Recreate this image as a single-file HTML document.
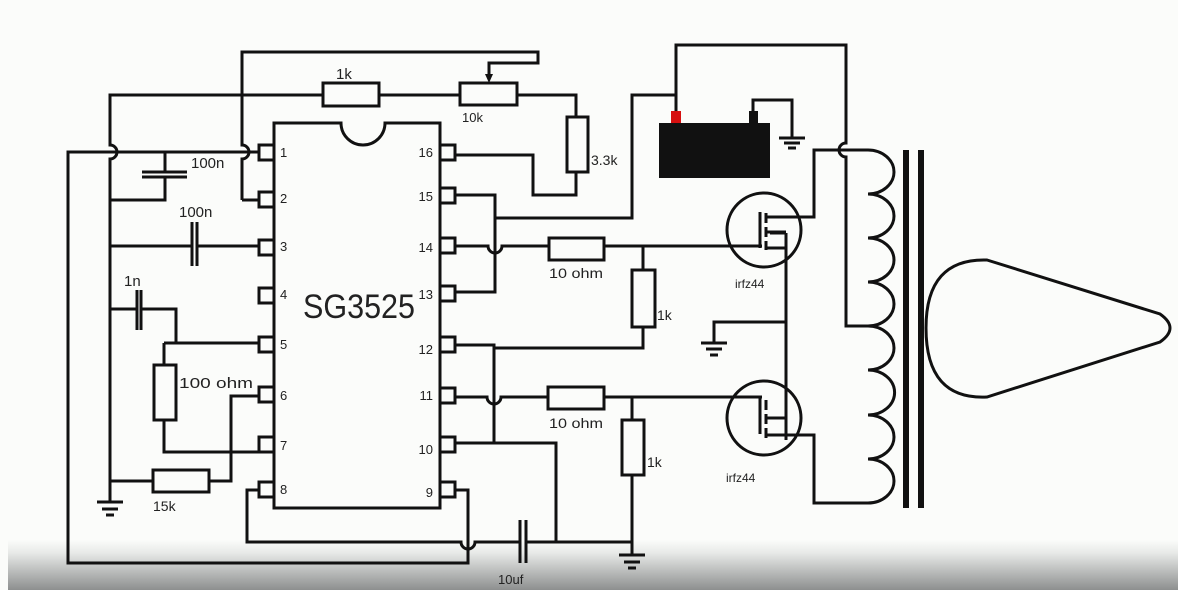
<!DOCTYPE html>
<html><head><meta charset="utf-8"><style>
html,body{margin:0;padding:0;background:#fbfcfa;}
svg{display:block}
text{font-family:"Liberation Sans",sans-serif;fill:#222}
</style></head><body>
<svg width="1178" height="590" viewBox="0 0 1178 590" xmlns="http://www.w3.org/2000/svg">
<defs>
<linearGradient id="g" x1="0" y1="0" x2="0" y2="1">
<stop offset="0" stop-color="#fbfcfa"/><stop offset="0.25" stop-color="#e8eae8"/><stop offset="1" stop-color="#8d8f8f"/>
</linearGradient>
</defs>
<rect x="0" y="0" width="1178" height="590" fill="#fbfcfa"/>
<rect x="8" y="540" width="1170" height="50" fill="url(#g)"/>
<g fill="none" stroke="#111" stroke-width="3" stroke-linejoin="miter">
<path d="M274 123 H341 A22 22 0 0 0 385 123 H440 V508 H274 Z"/>
<rect x="259" y="145" width="15" height="15"/><rect x="259" y="192" width="15" height="15"/>
<rect x="259" y="240" width="15" height="15"/><rect x="259" y="288" width="15" height="15"/>
<rect x="259" y="337" width="15" height="15"/><rect x="259" y="387" width="15" height="15"/>
<rect x="259" y="437" width="15" height="15"/><rect x="259" y="482" width="15" height="15"/>
<rect x="440" y="145" width="15" height="15"/><rect x="440" y="188" width="15" height="15"/>
<rect x="440" y="238" width="15" height="15"/><rect x="440" y="286" width="15" height="15"/>
<rect x="440" y="337" width="15" height="15"/><rect x="440" y="388" width="15" height="15"/>
<rect x="440" y="437" width="15" height="15"/><rect x="440" y="482" width="15" height="15"/>
<path d="M242 200 H259 M242 200 V159 A7 7 0 0 0 242 145 V52 H538 V63 H489 V76"/>
<path d="M110 502 V159 A7 7 0 0 0 110 145 V95 H323 M379 95 H460 M517 95 H576 V117 M576 172 V195 H533 V155 H455"/>
<rect x="323" y="83" width="56" height="23"/>
<rect x="460" y="83" width="57" height="22"/>
<rect x="567" y="117" width="21" height="55"/>
<path d="M259 152 H68 V563 H468 V490 H455"/>
<path d="M165 152 V172 M165 177 V200 H110 M142 172 H187 M142 177 H187"/>
<path d="M110 246 H192 M197 246 H259 M192 222 V266 M197 222 V266"/>
<path d="M110 309 H137 M141 309 H176 V343 M137 290 V330 M141 290 V330"/>
<path d="M164 343 H259 M164 343 V365 M164 420 V452 H259"/>
<rect x="154" y="365" width="22" height="55"/>
<path d="M259 396 H231 V481 H209 M153 481 H110"/>
<rect x="153" y="470" width="56" height="22"/>
<path d="M97 502 H123 M102 509 H118 M106 515 H114"/>
<path d="M259 490 H247 V542 H461 A7 7 0 0 0 475 542 H520 M526 542 H632 M556 542 V443 H455"/>
<path d="M520 520 V563 M526 520 V563"/>
<path d="M455 195 H495 V292 H455 M495 218 H632 V95 H676 V111 M676 95 V45 H846 V143 A7 7 0 0 0 846 157 V326 H870"/>
<path d="M455 246 H488 A7 7 0 0 0 502 246 H549 M604 246 H762"/>
<rect x="549" y="238" width="55" height="22"/>
<path d="M643 246 V270 M643 327 V348 H494 M455 345 H494 V443"/>
<rect x="632" y="270" width="23" height="57"/>
<path d="M455 397 H487 A7 7 0 0 0 501 397 H548 M604 397 H762"/>
<rect x="548" y="387" width="56" height="22"/>
<path d="M632 397 V420 M632 475 V555"/>
<rect x="622" y="420" width="22" height="55"/>
<path d="M619 555 H645 M624 562 H640 M628 568 H636"/>
<path d="M753 111 V100 H792 V138 M779 138 H805 M784 143 H800 M788 148 H796"/>
<circle cx="764" cy="230" r="37"/>
<path d="M760 212 V248 M766 213 V223 M766 227 V237 M766 241 V250 M766 217 H801 M766 248 H786 M786 233 H770 M786 233 V440 M766 232 H786"/>
<path d="M801 217 H814 V150 H868"/>
<path d="M786 322 H714 V343 M701 343 H727 M706 349 H722 M710 355 H718"/>
<circle cx="764" cy="418" r="37"/>
<path d="M760 398 V434 M766 400 V410 M766 414 V424 M766 428 V438 M766 418 H786 M766 435 H814 V503 H868"/>
<path d="M868 150 A26 22 0 0 1 868 194 A26 22 0 0 1 868 238 A26 22 0 0 1 868 282 A26 22 0 0 1 868 326 A26 22 0 0 1 868 370 A26 22 0 0 1 868 415 A26 22 0 0 1 868 459 A26 22 0 0 1 868 503"/>
<path d="M987 260 L1160 314 Q1180 328 1160 342 L987 397 Q926 400 926 328 Q926 258 987 260 Z"/>
</g>
<g fill="#111">
<rect x="903" y="150" width="6" height="358"/><rect x="918" y="150" width="6" height="358"/>
<rect x="659" y="123" width="111" height="55"/>
<rect x="749" y="111" width="9" height="12"/>
<rect x="671" y="111" width="10" height="12" fill="#d61010"/>
<path d="M485 74 L489 83 L493 74 Z"/>
</g>
<g font-size="13">
<text x="280" y="157">1</text><text x="280" y="203">2</text><text x="280" y="251">3</text><text x="280" y="299">4</text>
<text x="280" y="349">5</text><text x="280" y="400">6</text><text x="280" y="450">7</text><text x="280" y="494">8</text>
<text x="433" y="157" text-anchor="end">16</text><text x="433" y="201" text-anchor="end">15</text>
<text x="433" y="252" text-anchor="end">14</text><text x="433" y="299" text-anchor="end">13</text>
<text x="433" y="354" text-anchor="end">12</text><text x="433" y="400" text-anchor="end">11</text>
<text x="433" y="454" text-anchor="end">10</text><text x="433" y="497" text-anchor="end">9</text>
</g>
<text x="303" y="318" font-size="34" textLength="112" lengthAdjust="spacingAndGlyphs">SG3525</text>
<g font-size="15">
<text x="336" y="79">1k</text>
<text x="462" y="122" font-size="13">10k</text>
<text x="591" y="165" font-size="14">3.3k</text>
<text x="191" y="168">100n</text>
<text x="179" y="217">100n</text>
<text x="124" y="286">1n</text>
<text x="179" y="388" textLength="74" lengthAdjust="spacingAndGlyphs">100 ohm</text>
<text x="153" y="511" font-size="14">15k</text>
<text x="549" y="278" font-size="14" textLength="54" lengthAdjust="spacingAndGlyphs">10 ohm</text>
<text x="549" y="428" font-size="14" textLength="54" lengthAdjust="spacingAndGlyphs">10 ohm</text>
<text x="657" y="320" font-size="14">1k</text>
<text x="647" y="467" font-size="14">1k</text>
<text x="498" y="584" font-size="13">10uf</text>
<text x="735" y="288" font-size="12">irfz44</text>
<text x="726" y="482" font-size="12">irfz44</text>
</g>
</svg>
</body></html>
